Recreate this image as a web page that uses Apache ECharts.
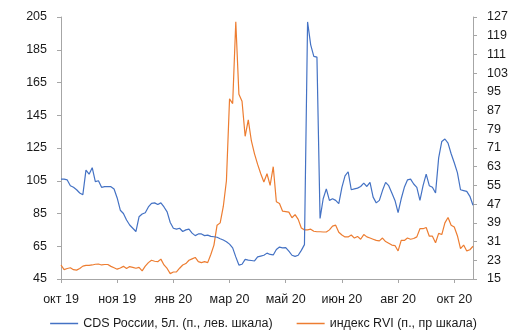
<!DOCTYPE html>
<html>
<head>
<meta charset="utf-8">
<script src="https://cdn.jsdelivr.net/npm/echarts@6/dist/echarts.min.js"></script>
<style>html,body{margin:0;padding:0;background:#fff}#c{width:527px;height:334px}</style>
</head>
<body>
<div id="c"></div>
<script>
var tickLabels = ['окт 19','ноя 19','янв 20','мар 20','май 20','июн 20','авг 20','окт 20'];
var cdsRussia = [
106,106,105.5,102,101,99.5,97.5,96.5,111.5,109,
113,104.5,105,101,101.4,101.4,101.4,100,94.5,87,
85,81,78,76,74,83,84.7,85.5,89,91.2,
91.5,90.5,91.5,89,86,79.5,76,75.5,76,74,
75,75.5,73,71.5,72.5,72.5,71.5,71.8,71,70.8,
70.5,69.6,68.8,67.8,66.3,64,58.5,53.5,54,57,
56.5,56.3,56,58.5,59,59.5,60.8,60,59.7,63,
64.5,64,64.2,62,59.5,58.8,59.5,62.5,66,202,
188,181,180.5,82,94,100,93,94,93,91,
101,108,110.5,99.5,100,100.5,101.5,103.5,101.5,104,
95,91.5,93,99,104,102,97.5,93,85.5,94,
101,105.5,106,103,101,93,102,109,102,101,
97.5,119,129,130.5,128,121.5,116,110,99.5,99,
98.5,95.5,90
];
var rviIndex = [
21,19,19.5,19.8,19,18.8,19.5,20.5,20.8,20.8,
21,21.3,21.4,21,21.2,21.2,20.4,19.8,19.2,19.7,
20.4,19.5,20.3,20,19.6,20,18.5,20.5,22,23,
22.6,22.4,23.5,21,19.5,17.3,18,18,19.6,21,
21.6,23,23.6,24.2,22.4,22,22.4,22,25.5,29.5,
38,39,46,57,92,90,125,94,91,76,
83,74,68.5,64,60,56.5,60,55,63,48,
47.3,44,43.8,43.6,41.2,42.5,40.5,36.8,36,36,
36.3,35.4,35.2,35.2,35.1,35.1,36,37.6,38,35,
33.8,33,33,33.8,32.5,33.2,32,34,33,32.5,
32,31.5,31.3,32.5,31,30.3,29.5,29.3,27,31.5,
31.5,32.5,32,32.3,33,36.5,36.5,37,33.3,33.3,
30.5,34.5,34,39,41.3,38,37.2,33.5,28,29.5,
27,27.5,29
];
var seriesNames = ['CDS России, 5л. (п., лев. шкала)', 'индекс RVI (п., пр шкала)'];
var leftTicks = {min: 45, max: 205, step: 20};
var rightTicks = {min: 15, max: 127, step: 8};
var perTick = 18;

var categories = cdsRussia.map(function (_, i) { return String(i); });

var axisLineStyle = {color: '#a6a6a6', width: 1};
var labelStyle = {color: '#1a1a1a', fontSize: 12.5, fontFamily: 'Liberation Sans, Arial, sans-serif'};

var chart = echarts.init(document.getElementById('c'), null, {renderer: 'canvas'});
chart.setOption({
  animation: false,
  backgroundColor: '#fff',
  grid: {left: 61, right: 54, top: 17, bottom: 55, containLabel: false},
  legend: {
    data: seriesNames,
    left: 'center',
    top: 312,
    icon: 'rect',
    itemWidth: 28,
    itemHeight: 1.5,
    itemGap: 24,
    textStyle: {color: '#1a1a1a', fontSize: 12.5, fontFamily: 'Liberation Sans, Arial, sans-serif'}
  },
  xAxis: {
    type: 'category',
    data: categories,
    boundaryGap: false,
    axisLine: {lineStyle: axisLineStyle},
    axisTick: {show: true, interval: perTick - 1, length: 4, lineStyle: axisLineStyle},
    axisLabel: Object.assign({
      interval: perTick - 1,
      margin: 14,
      formatter: function (v, idx) {
        var i = Number(v);
        return (i % perTick === 0 && tickLabels[i / perTick]) ? tickLabels[i / perTick] : '';
      }
    }, labelStyle),
    splitLine: {show: false}
  },
  yAxis: [
    {
      type: 'value',
      position: 'left',
      min: leftTicks.min, max: leftTicks.max, interval: leftTicks.step,
      axisLine: {show: true, lineStyle: axisLineStyle},
      axisTick: {show: true, length: 4, lineStyle: axisLineStyle},
      axisLabel: Object.assign({margin: 14}, labelStyle),
      splitLine: {show: false}
    },
    {
      type: 'value',
      position: 'right',
      min: rightTicks.min, max: rightTicks.max, interval: rightTicks.step,
      axisLine: {show: true, lineStyle: axisLineStyle},
      axisTick: {show: true, length: 4, lineStyle: axisLineStyle},
      axisLabel: Object.assign({margin: 14}, labelStyle),
      splitLine: {show: false}
    }
  ],
  series: [
    {
      name: seriesNames[0],
      type: 'line',
      yAxisIndex: 0,
      data: cdsRussia,
      showSymbol: false,
      symbol: 'none',
      lineStyle: {color: '#4472C4', width: 1.2},
      itemStyle: {color: '#4472C4'},
      z: 3
    },
    {
      name: seriesNames[1],
      type: 'line',
      yAxisIndex: 1,
      data: rviIndex,
      showSymbol: false,
      symbol: 'none',
      lineStyle: {color: '#ED7D31', width: 1.2},
      itemStyle: {color: '#ED7D31'},
      z: 2
    }
  ]
});
</script>
</body>
</html>
